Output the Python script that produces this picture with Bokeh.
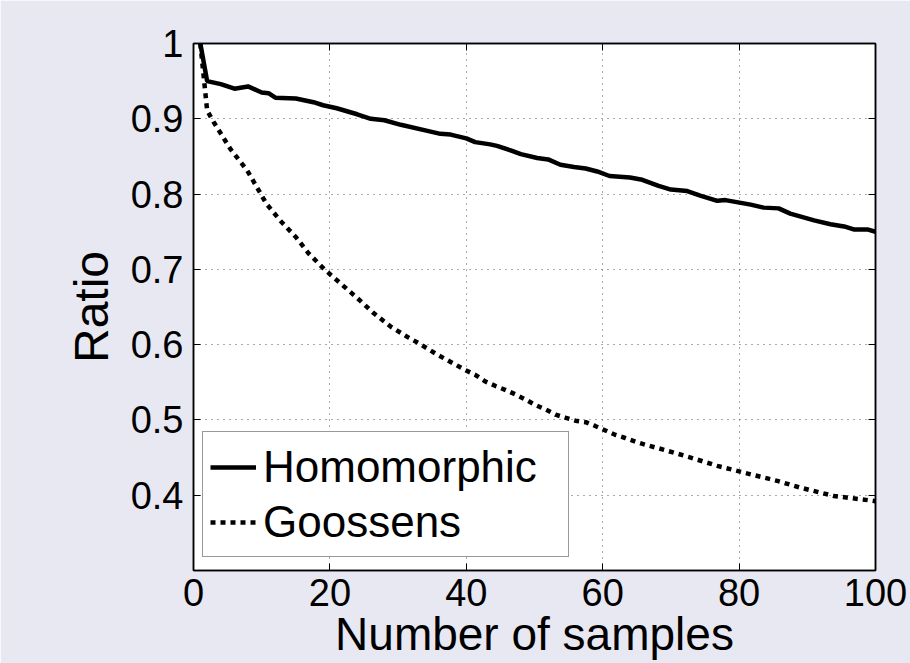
from bokeh.plotting import figure
from bokeh.models import (LinearAxis, FixedTicker, PrintfTickFormatter, Legend,
                          LegendItem, Range1d)
from bokeh.embed import file_html
from bokeh.resources import INLINE

# ---- data ----
homo_x = [1, 2, 4, 6, 8, 10, 11, 12, 15, 17.6, 19, 21, 24, 26, 28, 30.4, 34.3,
          36.2, 37.7, 40, 41.3, 43.5, 44.5, 46.5, 48, 50.4, 52, 53.8, 55.8,
          57.5, 59.2, 61, 64, 65.8, 68.2, 70, 72.4, 74.3, 76.8, 78, 81.7,
          83.6, 85.8, 87.5, 91, 93.4, 95.4, 96.8, 98.8, 100]
homo_y = [1.0, 0.950, 0.946, 0.940, 0.943, 0.935, 0.934, 0.928, 0.927, 0.922,
          0.918, 0.914, 0.906, 0.900, 0.898, 0.892, 0.884, 0.880, 0.879,
          0.874, 0.869, 0.866, 0.864, 0.858, 0.853, 0.848, 0.846, 0.839,
          0.836, 0.834, 0.830, 0.824, 0.822, 0.819, 0.811, 0.806, 0.804,
          0.798, 0.791, 0.792, 0.786, 0.782, 0.781, 0.774, 0.765, 0.760,
          0.757, 0.753, 0.753, 0.750]

goos_x = [1, 2, 3, 5.4, 7.9, 10.7, 12.8, 15, 16.9, 19.2, 21.6, 24, 26.4, 28.9,
          31.6, 33, 35.7, 38.5, 39.9, 41.3, 42.8, 44.3, 45.7, 47.2, 48.7,
          50.1, 51.6, 53.1, 54.5, 56, 57.5, 58.9, 60.4, 61.9, 63.3, 64.8,
          66.3, 69.5, 72.9, 76.8, 80.7, 85.6, 89, 93.9, 99.3, 100]
goos_y = [1.0, 0.911, 0.895, 0.860, 0.831, 0.787, 0.764, 0.743, 0.721, 0.700,
          0.681, 0.662, 0.642, 0.624, 0.609, 0.602, 0.587, 0.573, 0.566,
          0.560, 0.551, 0.545, 0.540, 0.534, 0.527, 0.520, 0.514, 0.507,
          0.503, 0.499, 0.497, 0.492, 0.486, 0.480, 0.476, 0.471, 0.467,
          0.459, 0.450, 0.439, 0.430, 0.419, 0.410, 0.399, 0.393, 0.392]

x_ticks = [0, 20, 40, 60, 80, 100]
y_ticks = [0.4, 0.5, 0.6, 0.7, 0.8, 0.9, 1.0]
series_names = ["Homomorphic", "Goossens"]
x_label = "Number of samples"
y_label = "Ratio"

FONT = "Liberation Sans"
BG = "#E8E8F2"

p = figure(width=910, height=663, output_backend="svg", toolbar_location=None,
           x_range=Range1d(0, 100), y_range=Range1d(0.3, 1.0),
           min_border_left=193, min_border_right=35, min_border_top=43,
           min_border_bottom=93)
p.border_fill_color = BG
p.background_fill_color = "white"
p.outline_line_color = "black"
p.outline_line_width = 1.5

r1 = p.line(homo_x, homo_y, line_color="black", line_width=4.5)
r2 = p.line(goos_x, goos_y, line_color="black", line_width=4.5,
            line_dash="5 5")

# axes styling
for ax in (p.xaxis[0], p.yaxis[0]):
    ax.axis_line_color = "black"
    ax.axis_line_width = 1.5
    ax.major_tick_in = 7
    ax.major_tick_out = 0
    ax.major_tick_line_color = "black"
    ax.minor_tick_line_color = None
    ax.major_label_text_font = FONT
    ax.major_label_text_font_size = "38px"
    ax.major_label_text_color = "black"
    ax.axis_label_text_font = FONT
    ax.axis_label_text_font_style = "normal"
    ax.axis_label_text_color = "black"

p.xaxis[0].ticker = FixedTicker(ticks=x_ticks)
p.yaxis[0].ticker = FixedTicker(ticks=y_ticks)
p.yaxis[0].formatter = PrintfTickFormatter(format="%g")
p.xaxis[0].major_label_standoff = 8
p.yaxis[0].major_label_standoff = 10

p.yaxis[0].axis_label = y_label
p.yaxis[0].axis_label_text_font_size = "48px"
p.yaxis[0].axis_label_standoff = 10

p.xaxis[0].axis_label = x_label
p.xaxis[0].axis_label_text_font_size = "46px"
p.xaxis[0].axis_label_standoff = -1

# mirrored axes (ticks only) on top and right
top = LinearAxis(ticker=FixedTicker(ticks=x_ticks), major_tick_in=7,
                 major_tick_out=0, minor_tick_line_color=None,
                 major_label_text_font_size="1px", major_label_text_color=None,
                 axis_line_color="black", axis_line_width=1.5)
right = LinearAxis(ticker=FixedTicker(ticks=y_ticks), major_tick_in=7,
                   major_tick_out=0, minor_tick_line_color=None,
                   major_label_text_font_size="1px", major_label_text_color=None,
                   axis_line_color="black", axis_line_width=1.5)
p.add_layout(top, "above")
p.add_layout(right, "right")

# grid
for g in (p.xgrid[0], p.ygrid[0]):
    g.grid_line_color = "#555555"
    g.grid_line_width = 1
    g.grid_line_dash = "1 5"
p.xgrid[0].ticker = FixedTicker(ticks=x_ticks)
p.ygrid[0].ticker = FixedTicker(ticks=y_ticks)

legend = Legend(items=[LegendItem(label=series_names[0], renderers=[r1]),
                       LegendItem(label=series_names[1], renderers=[r2])],
                location=(9, 13), orientation="vertical",
                label_text_font=FONT, label_text_font_size="44px",
                label_text_color="black", glyph_width=46, glyph_height=40,
                label_standoff=7, padding=7, spacing=0, margin=0,
                label_width=298, label_height=55,
                border_line_color="#333333", border_line_width=1.2,
                background_fill_color="white", background_fill_alpha=1.0)
p.add_layout(legend, "center")

open("out.html", "w").write(file_html(p, INLINE))
